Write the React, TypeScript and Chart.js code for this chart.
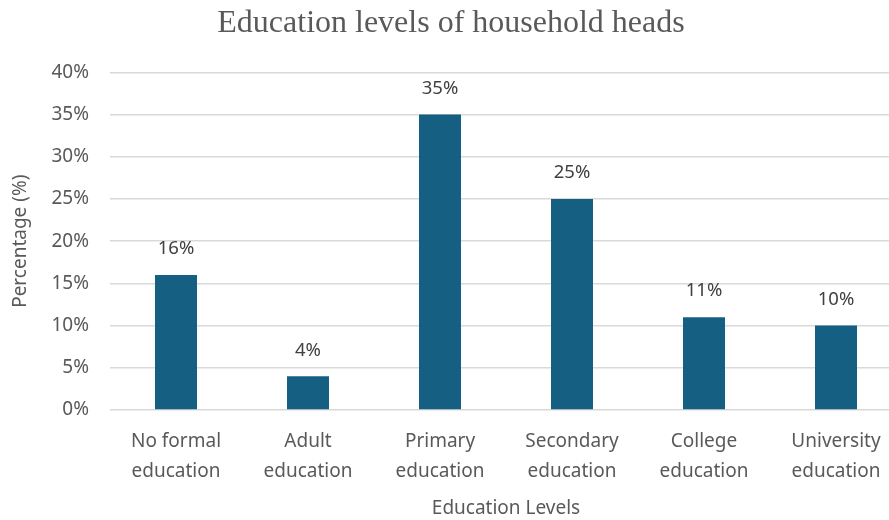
import React, { useEffect, useRef } from "react";
import { Chart, registerables } from "chart.js";

Chart.register(...registerables);

const categories: string[][] = [
  ["No formal", "education"],
  ["Adult", "education"],
  ["Primary", "education"],
  ["Secondary", "education"],
  ["College", "education"],
  ["University", "education"],
];
const percentages: number[] = [16, 4, 35, 25, 11, 10];
const yTicks: number[] = [0, 5, 10, 15, 20, 25, 30, 35, 40];

const FONT = "'Noto Sans', sans-serif";
const TEXT = "#595959";

const labelPlugin = {
  id: "barLabels",
  afterDatasetsDraw(chart: any) {
    const { ctx } = chart;
    const meta = chart.getDatasetMeta(0);
    ctx.save();
    ctx.font = `18.5px ${FONT}`;
    ctx.fillStyle = "#404040";
    ctx.textAlign = "center";
    ctx.textBaseline = "middle";
    meta.data.forEach((el: any, i: number) => {
      ctx.fillText(percentages[i] + "%", el.x, el.y - 26);
    });
    ctx.restore();
  },
};

export default function App() {
  const ref = useRef<HTMLCanvasElement>(null);
  useEffect(() => {
    if (!ref.current) return;
    const chart = new Chart(ref.current, {
      type: "bar",
      data: {
        labels: categories,
        datasets: [
          {
            data: percentages,
            backgroundColor: "#156082",
            barPercentage: 1,
            categoryPercentage: 42 / 132,
          },
        ],
      },
      options: {
        animation: false,
        responsive: false,
        maintainAspectRatio: false,
        layout: { padding: { left: 0, right: 1, top: 0, bottom: 0 } },
        plugins: {
          legend: { display: false },
          tooltip: { enabled: false },
          title: {
            display: true,
            text: "Education levels of household heads",
            color: TEXT,
            font: { family: "'Liberation Serif', serif", size: 32, weight: "normal" },
            padding: { top: 4, bottom: 30 },
          },
        },
        scales: {
          x: {
            grid: { display: false },
            border: { display: false },
            ticks: {
              color: TEXT,
              font: { family: FONT, size: 19, lineHeight: 1.58 },
              padding: 9,
              maxRotation: 0,
              autoSkip: false,
            },
            title: {
              display: true,
              text: "Education Levels",
              color: TEXT,
              font: { family: FONT, size: 19 },
              padding: { top: 4, bottom: 0 },
            },
            afterFit: (scale: any) => {
              scale.height = 110;
            },
          },
          y: {
            min: 0,
            max: 40,
            afterBuildTicks: (scale: any) => {
              scale.ticks = yTicks.map((v) => ({ value: v }));
            },
            grid: { color: "#d9d9d9", lineWidth: 1.5, drawTicks: false },
            border: { display: false },
            ticks: {
              color: TEXT,
              font: { family: FONT, size: 19 },
              padding: 21,
              callback: (v: any) => v + "%",
            },
            title: {
              display: true,
              text: "Percentage (%)",
              color: TEXT,
              font: { family: FONT, size: 19 },
              padding: { top: 9, bottom: 0 },
            },
            afterFit: (scale: any) => {
              scale.width = 110;
            },
          },
        },
      },
      plugins: [labelPlugin],
    });
    return () => chart.destroy();
  }, []);
  return (
    <div style={{ position: "fixed", left: 0, top: 0, width: 889, height: 520, overflow: "hidden", background: "#fff" }}>
      <canvas ref={ref} width={903} height={520} style={{ width: 903, height: 520, display: "block" }} />
    </div>
  );
}
